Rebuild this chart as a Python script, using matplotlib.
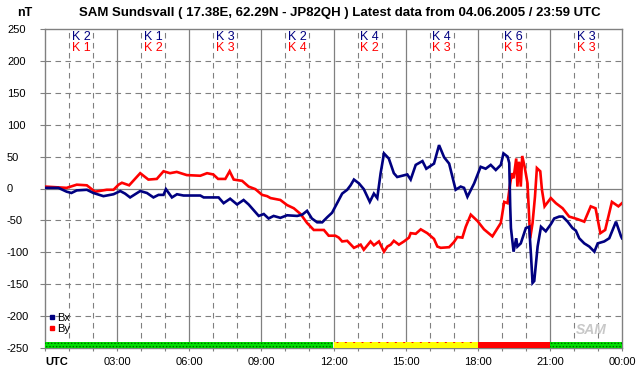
import matplotlib
matplotlib.use('Agg')
from matplotlib import pyplot as plt
from matplotlib.lines import Line2D

plt.rcParams['font.family'] = ['Liberation Sans', 'DejaVu Sans']
plt.rcParams['hatch.linewidth'] = 0.6

# magnetometer data, hours UTC and nT
bx_hours = [0, 0.56, 0.9, 1.1, 1.32, 1.74, 2.01, 2.43, 2.85, 3.13, 3.33, 3.54, 3.96, 4.24,
            4.51, 4.72, 4.93, 5.03, 5.28, 5.49, 5.76, 6.46, 6.6, 7.22, 7.43, 7.7, 7.99, 8.26,
            8.47, 8.89, 9.1, 9.3, 9.51, 9.79, 10.07, 10.49, 10.7, 10.9, 11.1, 11.32, 11.53,
            11.74, 11.94, 12.15, 12.36, 12.57, 12.71, 12.85, 13.06, 13.26, 13.51, 13.68, 13.82,
            13.96, 14.1, 14.3, 14.51, 14.65, 15.07, 15.21, 15.42, 15.7, 15.86, 16.18, 16.39,
            16.6, 16.81, 17.08, 17.29, 17.43, 17.57, 17.85, 18.12, 18.33, 18.54, 18.75, 18.96,
            19.07, 19.24, 19.31, 19.35, 19.38, 19.49, 19.6, 19.65, 19.79, 20.0, 20.14, 20.21,
            20.28, 20.35, 20.49, 20.63, 20.83, 21.04, 21.18, 21.39, 21.53, 21.74, 21.94, 22.08,
            22.22, 22.43, 22.64, 22.85, 22.99, 23.26, 23.47, 23.61, 23.75, 23.96, 24.0]
bx_values = [1, 1, -5, -7, -3, -2, -7, -12, -9, -4, -8, -14, -4, -7,
             -14, -10, -10, -1, -14, -9, -11, -11, -14, -14, -23, -16, -25, -18,
             -25, -43, -40, -47, -43, -46, -42, -43, -41, -35, -47, -53, -53,
             -45, -38, -23, -8, -2, 5, 14, 8, -1, -21, -8, -15,
             24, 55, 47, 24, 18, 22, 14, 37, 43, 31, 39, 68,
             49, 39, -2, 3, 1, -13, 8, 34, 31, 37, 29, 37,
             55, 50, 40, -28, -62, -99, -78, -91, -86, -62, -60, -102,
             -148, -145, -91, -60, -67, -56, -47, -44, -44, -52, -62, -66,
             -78, -86, -91, -99, -86, -83, -78, -65, -52, -75, -78]

by_hours = [0, 0.9, 1.32, 1.74, 2.08, 2.57, 2.85, 3.06, 3.2, 3.5, 3.96, 4.3, 4.65, 4.93,
            5.2, 5.48, 5.9, 6.46, 6.74, 7.0, 7.2, 7.5, 7.68, 7.85, 8.2, 8.47, 8.75, 9.03,
            9.24, 9.38, 9.79, 10.07, 10.35, 10.63, 10.9, 11.18, 11.6, 11.8, 12.08, 12.22,
            12.36, 12.57, 12.85, 13.13, 13.26, 13.54, 13.68, 13.89, 14.1, 14.24, 14.38, 14.51,
            14.72, 14.93, 15.14, 15.21, 15.42, 15.63, 15.9, 16.18, 16.32, 16.46, 16.81, 17.01,
            17.15, 17.36, 17.5, 17.71, 17.99, 18.26, 18.61, 18.96, 19.1, 19.24, 19.35, 19.42,
            19.49, 19.6, 19.65, 19.72, 19.79, 19.85, 19.95, 20.07, 20.18, 20.28, 20.38, 20.46,
            20.6, 20.67, 20.78, 21.04, 21.25, 21.53, 21.8, 22.15, 22.43, 22.7, 22.9, 23.1,
            23.3, 23.58, 23.85, 24.0]
by_values = [3, 1, 6, 5, -5, -2, -2, 6, 9, 5, 24, 14, 15, 27,
             24, 26, 21, 20, 24, 22, 15, 15, 27, 14, 12, 3, -1, -10,
             -12, -15, -18, -26, -31, -40, -54, -65, -65, -74, -74, -77,
             -83, -82, -93, -88, -96, -83, -89, -83, -99, -91, -88, -82,
             -88, -83, -77, -70, -71, -64, -70, -79, -91, -93, -92, -84,
             -76, -77, -60, -41, -51, -64, -75, -54, -21, -23, 8, 24,
             16, 47, 3, 42, 3, 51, 34, 8, -78, -54, -13, 32,
             27, -2, -28, -15, -23, -31, -44, -48, -52, -28, -31, -70,
             -65, -21, -28, -23]

# K index per 3 hour block
k_bx = [2, 1, 3, 2, 4, 4, 6, 3]
k_by = [1, 2, 3, 4, 2, 3, 5, 3]
block_status = ['quiet', 'quiet', 'quiet', 'quiet', 'active', 'active', 'storm', 'quiet']

x_labels = ['UTC', '03:00', '06:00', '09:00', '12:00', '15:00', '18:00', '21:00', '00:00']
y_ticks = [250, 200, 150, 100, 50, 0, -50, -100, -150, -200, -250]

W, H = 642, 376
fig = plt.figure(figsize=(W / 100, H / 100), dpi=100)
fig.patch.set_facecolor('white')
ax = fig.add_axes([45 / W, (H - 348) / H, 577 / W, 319 / H])

grey = '#808080'
navy = '#000080'

# grid
for h in range(1, 24):
    if h % 3 == 0:
        ax.axvline(h, color=grey, lw=0.9, zorder=1)
    else:
        ax.axvline(h, color=grey, lw=0.8, ls=(0, (5, 4)), zorder=1)
for v in y_ticks[1:-1]:
    if v == 0:
        ax.axhline(v, color=grey, lw=0.9, zorder=1)
    else:
        ax.axhline(v, color=grey, lw=0.8, ls=(0, (5, 4)), zorder=1)

ax.plot(by_hours, by_values, color='#ff0000', lw=1.9, zorder=3, solid_joinstyle='miter')
ax.plot(bx_hours, bx_values, color=navy, lw=1.9, zorder=4, solid_joinstyle='miter')

# status bar at the bottom
styles = {'quiet': ('#00e000', '#006000', '.....'),
          'active': ('#ffff00', '#ff0000', '..'),
          'storm': ('#ff0000', '#ff0000', None)}
for i, s in enumerate(block_status):
    fc, hc, hatch = styles[s]
    ax.bar(i * 3, 9, width=3, bottom=-250, align='edge', color=fc, edgecolor=hc,
           hatch=hatch, linewidth=0, zorder=5)

# K labels
for i in range(8):
    ax.text(i * 3 + 1.5, 237, f'K {k_bx[i]}', color=navy, fontsize=9, ha='center', va='center', zorder=6)
    ax.text(i * 3 + 1.5, 220, f'K {k_by[i]}', color='#ff0000', fontsize=9, ha='center', va='center', zorder=6)

ax.set_xlim(0, 24)
ax.set_ylim(-250, 250)
ax.set_xticks(range(0, 25))
ax.set_xticklabels([x_labels[h // 3] if h % 3 == 0 else '' for h in range(25)], fontsize=8)
ax.get_xticklabels()[0].set_fontweight('bold')
ax.get_xticklabels()[0].set_ha('left')
ax.set_yticks(y_ticks)
ax.set_yticklabels([str(v) for v in y_ticks], fontsize=8)
for lab in ax.get_yticklabels():
    lab.set_ha('left')
ax.tick_params(axis='x', length=2.5, color=grey, pad=4)
ax.tick_params(axis='y', length=3.6, color=grey, pad=23.8)
for sp in ax.spines.values():
    sp.set_color(grey)
    sp.set_linewidth(1)

# legend
handles = [Line2D([], [], ls='', marker='s', ms=2.5, color=navy),
           Line2D([], [], ls='', marker='s', ms=2.5, color='#ff0000')]
leg = ax.legend(handles, ['Bx', 'By'], loc='lower left', bbox_to_anchor=(-0.004, 0.022),
                frameon=False, fontsize=8, handlelength=0.5, handletextpad=0.2,
                labelspacing=0.1, borderpad=0.1)
leg.set_zorder(7)

# logo
ax.text(22.7, -222, 'SAM', fontsize=10, style='italic', fontweight='bold', color='#c8c8c8',
        ha='center', va='center', zorder=6)

fig.text(17 / W, 1 - 13 / H, 'nT', fontsize=9, fontweight='bold', va='center')
fig.text(340 / W, 1 - 13 / H, 'SAM Sundsvall ( 17.38E, 62.29N - JP82QH ) Latest data from 04.06.2005 / 23:59 UTC',
         fontsize=9.5, fontweight='bold', ha='center', va='center')

fig.savefig('out.png', dpi=100, facecolor='white')
